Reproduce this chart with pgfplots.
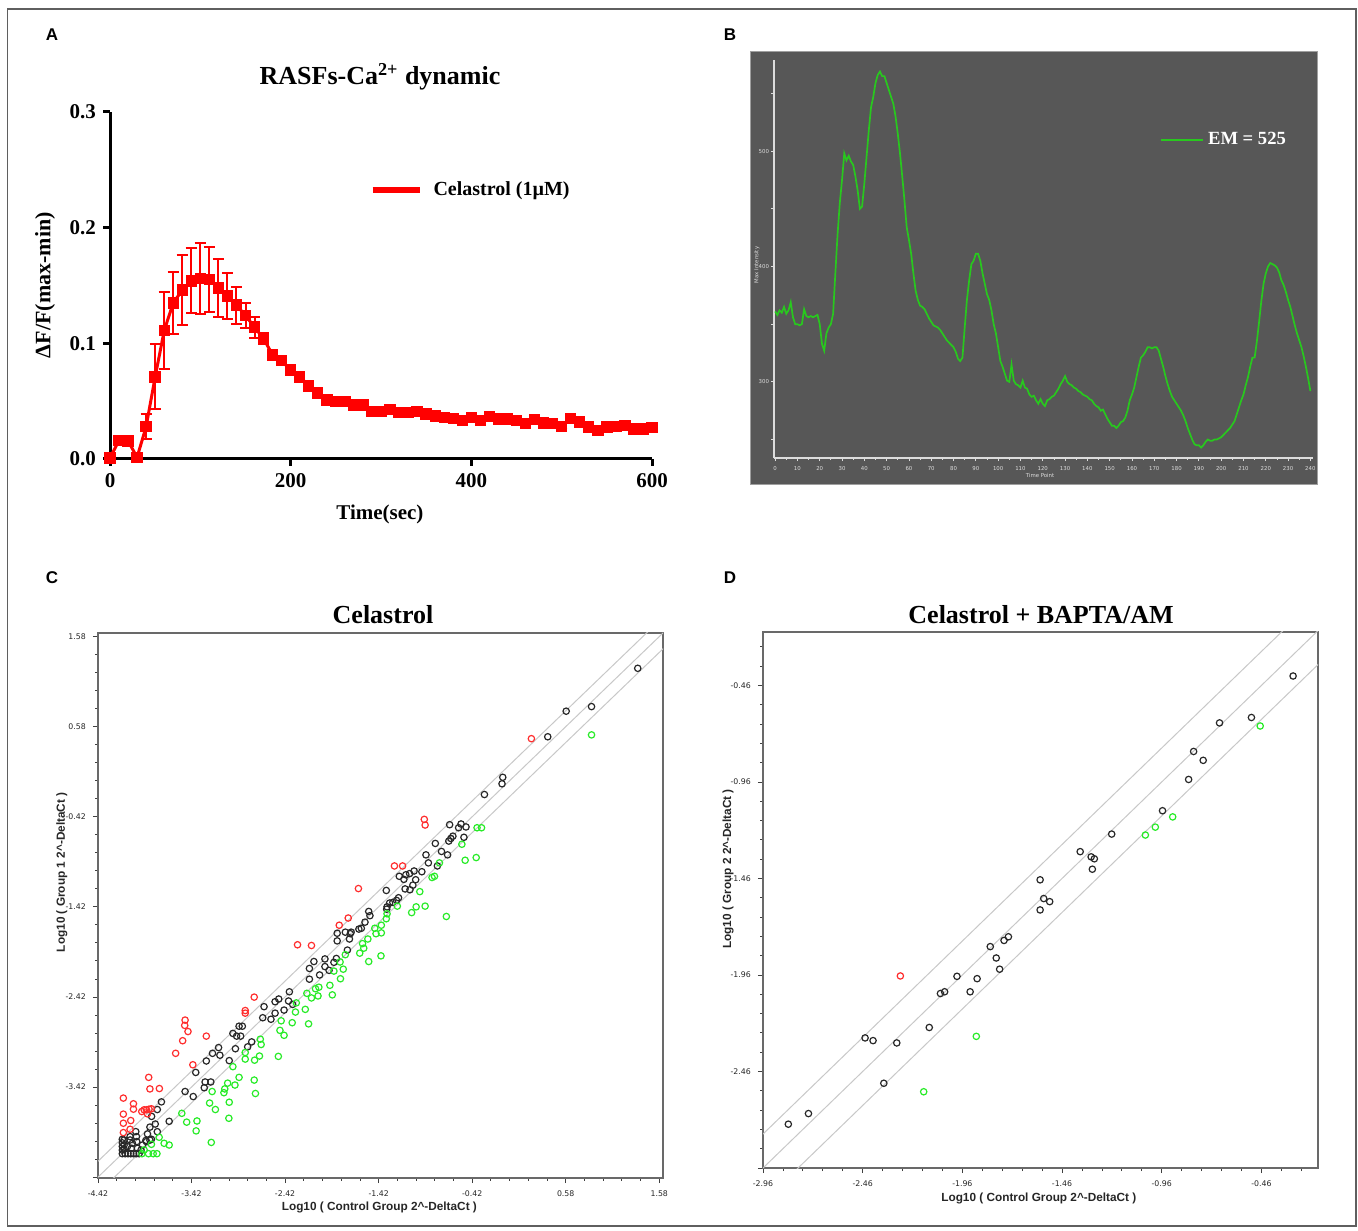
\documentclass[border=0pt]{standalone}
\usepackage{pgfplots}
\usepackage{pgfplotstable}
\pgfplotsset{compat=1.18}
\usepackage{fontspec}
\setmainfont{Liberation Serif}
\newfontfamily\lsans{Liberation Sans}
\newfontfamily\dvs{DejaVu Sans}
\definecolor{bgB}{RGB}{87,87,87}
\definecolor{curveB}{RGB}{40,200,30}
\definecolor{ptred}{RGB}{255,45,45}
\definecolor{ptgreen}{RGB}{40,235,40}
\definecolor{ptblack}{RGB}{40,40,40}
\definecolor{diag}{RGB}{200,200,200}
\definecolor{boxc}{RGB}{105,105,105}
\definecolor{lightax}{RGB}{220,220,220}

\pgfplotstableread{
t v e
0 0.001 0
10 0.016 0.001
20 0.0155 0.001
30 0.0015 0.001
40 0.028 0.011
50 0.071 0.028
60 0.111 0.033
70 0.135 0.027
80 0.146 0.030
90 0.154 0.028
100 0.156 0.031
110 0.155 0.028
120 0.148 0.025
130 0.141 0.020
140 0.133 0.016
150 0.124 0.011
160 0.114 0.009
170 0.104 0.005
180 0.090 0.003
190 0.085 0.002
200 0.077 0.002
210 0.071 0.002
220 0.063 0.002
230 0.057 0.002
240 0.051 0.002
250 0.0496 0.002
260 0.0496 0.002
270 0.0466 0.002
280 0.0466 0.002
290 0.041 0.002
300 0.041 0.002
310 0.043 0.002
320 0.040 0.002
330 0.040 0.002
340 0.041 0.004
350 0.039 0.002
360 0.037 0.002
370 0.036 0.001
380 0.035 0.001
390 0.0335 0.001
400 0.036 0.001
410 0.0335 0.001
420 0.0365 0.001
430 0.0344 0.001
440 0.0344 0.001
450 0.0335 0.001
460 0.0306 0.001
470 0.034 0.001
480 0.031 0.001
490 0.0306 0.001
500 0.028 0.001
510 0.035 0.001
520 0.032 0.001
530 0.0277 0.001
540 0.0248 0.001
550 0.0277 0.001
560 0.028 0.001
570 0.029 0.001
580 0.026 0.001
590 0.026 0.001
600 0.027 0.001
}\dataA

\pgfplotstableread{
t v
0 361
1 358
2 362
3 360
4 365
5 359
6 362
7 369
8 356
9 350
10 350
11 349
12 350
13 363
14 357
15 356
16 357
17 356
18 357
19 358
20 350
21 333
22 327
23 342
24 347
25 350
26 359
27 394
28 428
29 455
30 475
31 498
32 492
33 496
34 491
35 488
36 478
37 466
38 450
39 452
40 472
41 495
42 518
43 538
44 547
45 559
46 566
47 569
48 565
49 565
50 559
51 553
52 547
53 541
54 530
55 515
56 498
57 478
58 457
59 434
60 423
61 411
62 394
63 379
64 371
65 366
66 365
67 363
68 359
69 355
70 352
71 349
72 348
73 347
74 345
75 342
76 339
77 336
78 334
79 332
80 330
81 326
82 320
83 318
84 321
85 347
86 371
87 388
88 402
89 405
90 411
91 411
92 405
93 394
94 385
95 376
96 371
97 362
98 350
99 342
100 330
101 318
102 313
103 307
104 301
105 300
106 315
107 301
108 298
109 297
110 295
111 301
112 295
113 294
114 289
115 287
116 288
117 284
118 281
119 285
120 281
121 279
122 284
123 285
124 287
125 288
126 291
127 294
128 298
129 301
130 305
131 300
132 298
133 297
134 295
135 294
136 292
137 291
138 289
139 288
140 287
141 285
142 284
143 281
144 279
145 278
146 275
147 276
148 272
149 268
150 265
151 262
152 262
153 260
154 262
155 265
156 266
157 269
158 275
159 284
160 289
161 295
162 304
163 313
164 321
165 323
166 326
167 330
168 330
169 329
170 330
171 330
172 327
173 320
174 313
175 305
176 298
177 292
178 287
179 284
180 281
181 278
182 275
183 271
184 266
185 260
186 255
187 250
188 246
189 245
190 245
191 243
192 245
193 248
194 250
195 249
196 249
197 250
198 250
199 251
200 252
201 254
202 256
203 258
204 260
205 263
206 266
207 272
208 278
209 284
210 289
211 297
212 304
213 313
214 321
215 321
216 335
217 352
218 370
219 385
220 394
221 400
222 403
223 402
224 401
225 399
226 395
227 388
228 384
229 378
230 371
231 365
232 357
233 349
234 342
235 336
236 330
237 322
238 313
239 303
240 292
}\dataB

\pgfplotstableread{
x y
1.350 1.228
0.585 0.752
0.856 0.803
0.388 0.468
-0.093 0.018
-0.101 -0.054
-0.289 -0.173
-0.661 -0.508
-0.539 -0.500
-0.565 -0.542
-0.486 -0.533
-0.814 -0.716
-0.626 -0.635
-0.648 -0.661
-0.670 -0.690
-0.508 -0.648
-0.748 -0.805
-0.683 -0.843
-0.914 -0.843
-0.888 -0.932
-0.792 -0.966
-0.958 -1.030
-1.041 -1.022
-1.089 -1.051
-1.129 -1.064
-1.199 -1.081
-1.150 -1.115
-1.024 -1.119
-1.054 -1.179
-1.137 -1.221
-1.085 -1.230
-1.338 -1.238
-1.207 -1.319
-1.229 -1.348
-1.268 -1.370
-1.303 -1.378
-1.330 -1.420
-1.334 -1.446
-1.526 -1.471
-1.513 -1.518
-1.566 -1.590
-1.605 -1.658
-1.631 -1.667
-1.714 -1.701
-1.776 -1.701
-1.723 -1.718
-1.863 -1.713
-1.732 -1.777
-1.863 -1.798
-1.754 -1.900
-1.994 -1.998
-2.112 -2.027
-2.160 -2.104
-1.994 -2.083
-1.950 -2.125
-2.051 -2.176
-2.160 -2.223
-1.872 -1.993
-1.898 -2.036
-2.374 -2.363
-2.488 -2.443
-2.527 -2.473
-2.383 -2.465
-2.339 -2.503
-2.431 -2.566
-2.645 -2.528
-2.527 -2.600
-2.571 -2.668
-2.659 -2.651
-2.777 -2.919
-2.820 -2.974
-2.877 -2.745
-2.912 -2.745
-2.978 -2.825
-2.938 -2.855
-2.895 -2.855
-2.951 -2.995
-3.017 -3.127
-3.131 -2.982
-3.117 -3.067
-3.196 -3.046
-3.262 -3.131
-3.375 -3.258
-3.402 -3.526
-3.489 -3.470
-3.275 -3.364
-3.284 -3.428
-3.214 -3.364
-3.659 -3.801
-3.742 -3.585
-3.786 -3.670
-3.847 -3.746
-3.865 -3.865
-3.808 -3.831
-3.786 -3.916
-3.909 -4.014
-3.865 -4.009
-3.891 -3.941
-3.849 -4.000
-3.902 -4.026
-3.945 -4.064
-4.016 -3.915
-4.009 -3.971
-4.077 -3.971
-4.077 -4.008
-4.141 -4.008
-4.141 -4.064
-4.106 -4.082
-4.052 -4.045
-4.006 -4.026
-3.999 -4.101
-4.063 -4.101
-4.141 -4.112
-3.960 -4.120
-4.160 -4.160
-4.130 -4.160
-4.100 -4.160
-4.070 -4.160
-4.040 -4.160
-4.010 -4.160
-3.980 -4.160
-4.160 -4.120
-4.160 -4.080
-4.160 -4.040
-4.160 -4.000
}\dataCk

\pgfplotstableread{
x y
0.213 0.447
-0.932 -0.449
-0.923 -0.512
-1.251 -0.966
-1.164 -0.966
-1.636 -1.217
-1.745 -1.544
-1.841 -1.624
-2.287 -1.841
-2.138 -1.849
-2.750 -2.422
-2.846 -2.571
-2.846 -2.600
-3.489 -2.677
-3.493 -2.736
-3.458 -2.804
-3.515 -2.906
-3.262 -2.855
-3.590 -3.046
-3.406 -3.173
-3.878 -3.313
-3.865 -3.441
-3.764 -3.437
-4.149 -3.543
-4.149 -3.721
-4.149 -3.822
-4.149 -3.926
-4.070 -3.792
-4.041 -3.606
-4.041 -3.666
-3.952 -3.692
-3.927 -3.673
-3.902 -3.673
-3.874 -3.666
-3.849 -3.662
-3.891 -3.718
-4.077 -3.889
}\dataCr

\pgfplotstableread{
x y
0.856 0.489
-0.368 -0.542
-0.320 -0.542
-0.530 -0.725
-0.495 -0.903
-0.377 -0.873
-0.770 -0.932
-0.823 -1.081
-0.849 -1.094
-0.980 -1.251
-0.923 -1.412
-1.019 -1.420
-1.067 -1.484
-0.696 -1.527
-1.220 -1.412
-1.330 -1.497
-1.338 -1.552
-1.391 -1.624
-1.391 -1.709
-1.461 -1.658
-1.448 -1.718
-1.535 -1.777
-1.592 -1.828
-1.579 -1.879
-1.622 -1.934
-1.526 -2.027
-1.395 -1.964
-1.776 -1.951
-1.798 -2.112
-1.828 -2.218
-1.898 -2.133
-1.832 -2.032
-1.941 -2.291
-1.915 -2.397
-2.059 -2.312
-2.095 -2.329
-2.138 -2.431
-2.068 -2.409
-2.187 -2.380
-2.300 -2.486
-2.309 -2.588
-2.204 -2.558
-2.169 -2.719
-2.344 -2.706
-2.462 -2.685
-2.475 -2.791
-2.431 -2.846
-2.492 -3.080
-2.685 -2.889
-2.676 -2.948
-2.694 -3.076
-2.746 -3.122
-2.846 -3.037
-2.846 -3.110
-2.750 -3.343
-2.737 -3.492
-2.912 -3.313
-2.956 -3.398
-2.978 -3.194
-3.034 -3.377
-3.065 -3.441
-3.074 -3.483
-3.017 -3.589
-3.021 -3.767
-3.200 -3.470
-3.227 -3.598
-3.165 -3.670
-3.362 -3.797
-3.371 -3.907
-3.472 -3.810
-3.524 -3.712
-3.209 -4.035
-3.766 -3.978
-3.713 -4.045
-3.659 -4.064
-3.849 -4.056
-3.927 -4.119
-3.950 -4.160
-3.880 -4.160
-3.830 -4.160
-3.790 -4.160
}\dataCg

\pgfplotstableread{
x y
-0.301 -0.411
-0.510 -0.626
-0.670 -0.654
-0.800 -0.802
-0.752 -0.848
-0.825 -0.947
-0.956 -1.109
-1.211 -1.230
-1.369 -1.321
-1.314 -1.348
-1.298 -1.358
-1.308 -1.412
-1.570 -1.467
-1.552 -1.564
-1.522 -1.580
-1.570 -1.623
-1.729 -1.762
-1.751 -1.781
-1.820 -1.813
-1.790 -1.872
-1.773 -1.930
-1.987 -1.967
-1.886 -1.979
-1.921 -2.047
-2.049 -2.047
-2.070 -2.056
-2.126 -2.232
-2.448 -2.286
-2.408 -2.300
-2.289 -2.312
-2.354 -2.521
-2.732 -2.678
-2.833 -2.733
}\dataDk

\pgfplotstableread{
x y
-2.271 -1.965
}\dataDr

\pgfplotstableread{
x y
-0.466 -0.670
-0.905 -1.141
-0.992 -1.194
-1.042 -1.235
-1.890 -2.278
-2.154 -2.565
}\dataDg

\begin{document}
\begin{tikzpicture}
\path[use as bounding box] (0,0) rectangle (679pt,615pt);
\draw[line width=0.7pt, draw={rgb,255:red,95;green,95;blue,95}] (3.75pt,2pt) rectangle (678pt,610.5pt);

% panel letters
\node[font=\lsans\bfseries\fontsize{8.5}{10}\selectfont] at (26pt,597.5pt) {A};
\node[font=\lsans\bfseries\fontsize{8.5}{10}\selectfont] at (365pt,597.5pt) {B};
\node[font=\lsans\bfseries\fontsize{8.5}{10}\selectfont] at (26pt,326pt) {C};
\node[font=\lsans\bfseries\fontsize{8.5}{10}\selectfont] at (365pt,326pt) {D};

% titles
\node[font=\bfseries\fontsize{13}{15}\selectfont] at (190pt,576.5pt) {RASFs-Ca\textsuperscript{2+} dynamic};
\node[font=\bfseries\fontsize{13}{15}\selectfont] at (191.5pt,307.5pt) {Celastrol};
\node[font=\bfseries\fontsize{13}{15}\selectfont] at (520.5pt,307.5pt) {Celastrol + BAPTA/AM};

% ---------------- Panel A ----------------
\begin{axis}[
  at={(55pt,385.5pt)}, anchor=south west,
  scale only axis, width=271pt, height=173.5pt,
  xmin=0, xmax=600, ymin=0, ymax=0.3,
  axis x line*=bottom, axis y line*=left,
  axis line style={-, line width=1.5pt, black},
  xtick={0,200,400,600}, xticklabels={0,200,400,600},
  ytick={0,0.1,0.2,0.3}, yticklabels={0.0,0.1,0.2,0.3},
  tick align=outside, major tick length=3.5pt,
  tick style={line width=1.5pt, black},
  ticklabel style={font=\bfseries\fontsize{10.5}{12}\selectfont},
  xlabel={Time(sec)},
  xlabel style={at={(axis description cs:0.498,-0.161)}, anchor=center, font=\bfseries\fontsize{10.5}{12}\selectfont},
  ylabel={ΔF/F(max-min)},
  ylabel style={at={(axis description cs:-0.12,0.501)}, anchor=center, font=\bfseries\fontsize{11}{13}\selectfont},
  clip=false,
  legend style={at={(axis description cs:0.467,0.775)}, anchor=west, draw=none, fill=none,
    font=\bfseries\fontsize{10}{12}\selectfont,
    /tikz/every odd column/.append style={column sep=3.5pt}},
  legend cell align=left,
  legend image code/.code={\draw[red, line width=3pt] (0pt,0pt) -- (23.5pt,0pt);},
]
\addplot[color=red, line width=1.5pt, mark=square*, mark size=2.1pt, mark options={solid, fill=red},
  error bars/.cd, y dir=both, y explicit,
  error bar style={line width=1pt, red},
  error mark options={rotate=90, mark size=2.8pt, line width=1pt, red}]
  table[x=t, y=v, y error=e] {\dataA};
\addlegendentry{Celastrol (1µM)}
\end{axis}

% ---------------- Panel B ----------------
\fill[bgB] (375pt,372.5pt) rectangle (658.5pt,589pt);
\draw[line width=0.5pt, gray!75] (375pt,372.5pt) rectangle (658.5pt,589pt);
\begin{axis}[
  at={(387pt,386pt)}, anchor=south west,
  scale only axis, width=269.3pt, height=199pt,
  xmin=-0.5, xmax=241, ymin=234, ymax=579,
  axis x line*=bottom, axis y line*=left,
  axis line style={-, lightax, line width=0.6pt},
  xtick={0,10,...,240}, minor x tick num=1,
  ytick={250,300,350,400,450,500,550}, yticklabels={,300,,400,,500,},
  tick align=outside, major tick length=1.6pt, minor tick length=1pt,
  tick style={lightax, line width=0.4pt},
  /pgf/number format/assume math mode=true,
  ticklabel style={font=\dvs\fontsize{2.7}{3}\selectfont, text=lightax},
  yticklabel style={xshift=2.6pt},
  xticklabel style={yshift=0.8pt},
  xlabel={Time Point}, ylabel={Max Intensity},
  label style={font=\dvs\fontsize{2.7}{3}\selectfont, text=lightax},
  xlabel style={at={(axis description cs:0.494,-0.045)}, anchor=center},
  ylabel style={at={(axis description cs:-0.032,0.485)}, anchor=center},
  legend style={at={(axis description cs:0.705,0.799)}, anchor=west, draw=none, fill=none,
    font=\bfseries\fontsize{9.3}{11}\selectfont, text=white},
  legend image code/.code={\draw[curveB, line width=1pt] (0pt,0pt) -- (21pt,0pt);},
]
\addplot[curveB, line width=0.85pt, no marks] table[x=t, y=v] {\dataB};
\addlegendentry{EM = 525}
\end{axis}

% ---------------- Panel C ----------------
\begin{axis}[
  at={(49pt,26pt)}, anchor=south west,
  scale only axis, width=282.5pt, height=272.5pt,
  xmin=-4.42, xmax=1.62, ymin=-4.43, ymax=1.62,
  axis line style={boxc, line width=0.6pt},
  tick pos=left, tick align=outside,
  xtick={-4.42,-3.42,-2.42,-1.42,-0.42,0.58,1.58},
  xticklabels={-4.42,-3.42,-2.42,-1.42,-0.42,0.58,1.58},
  ytick={-4.42,-3.42,-2.42,-1.42,-0.42,0.58,1.58},
  yticklabels={,-3.42,-2.42,-1.42,-0.42,0.58,1.58},
  minor x tick num=4, minor y tick num=4,
  major tick length=2.6pt, minor tick length=1.5pt,
  tick style={black!75, line width=0.4pt},
  ticklabel style={font=\dvs\fontsize{3.9}{5}\selectfont, text=black!85},
  xlabel={Log10 ( Control Group 2\textasciicircum-DeltaCt )},
  ylabel={Log10 ( Group 1 2\textasciicircum-DeltaCt )},
  label style={font=\lsans\bfseries\fontsize{5.9}{7}\selectfont, text=black!85},
  xlabel style={at={(axis description cs:0.498,-0.055)}, anchor=center},
  ylabel style={at={(axis description cs:-0.064,0.561)}, anchor=center},
]
\addplot[diag, line width=0.5pt] coordinates {(-4.6,-4.6) (1.8,1.8)};
\addplot[diag, line width=0.5pt] coordinates {(-4.6,-4.424) (1.6,1.776)};
\addplot[diag, line width=0.5pt] coordinates {(-4.4,-4.576) (1.8,1.624)};
\addplot[only marks, mark=o, mark size=1.6pt, mark options={ptblack, line width=0.6pt}] table {\dataCk};
\addplot[only marks, mark=o, mark size=1.6pt, mark options={ptgreen, line width=0.6pt}] table {\dataCg};
\addplot[only marks, mark=o, mark size=1.6pt, mark options={ptred, line width=0.6pt}] table {\dataCr};
\end{axis}

% ---------------- Panel D ----------------
\begin{axis}[
  at={(381.5pt,31pt)}, anchor=south west,
  scale only axis, width=277.5pt, height=268pt,
  xmin=-2.96, xmax=-0.176, ymin=-2.96, ymax=-0.183,
  axis line style={boxc, line width=0.6pt},
  tick pos=left, tick align=outside,
  xtick={-2.96,-2.46,-1.96,-1.46,-0.96,-0.46,0.04},
  xticklabels={-2.96,-2.46,-1.96,-1.46,-0.96,-0.46,},
  ytick={-2.96,-2.46,-1.96,-1.46,-0.96,-0.46,0.04},
  yticklabels={,-2.46,-1.96,-1.46,-0.96,-0.46,},
  minor x tick num=4, minor y tick num=4,
  major tick length=2.6pt, minor tick length=1.5pt,
  tick style={black!75, line width=0.4pt},
  ticklabel style={font=\dvs\fontsize{3.9}{5}\selectfont, text=black!85},
  xlabel={Log10 ( Control Group 2\textasciicircum-DeltaCt )},
  ylabel={Log10 ( Group 2 2\textasciicircum-DeltaCt )},
  label style={font=\lsans\bfseries\fontsize{5.9}{7}\selectfont, text=black!85},
  xlabel style={at={(axis description cs:0.497,-0.056)}, anchor=center},
  ylabel style={at={(axis description cs:-0.063,0.558)}, anchor=center},
]
\addplot[diag, line width=0.5pt] coordinates {(-3.1,-3.1) (0,0)};
\addplot[diag, line width=0.5pt] coordinates {(-3.2,-3.024) (0,0.176)};
\addplot[diag, line width=0.5pt] coordinates {(-3.0,-3.176) (0,-0.176)};
\addplot[only marks, mark=o, mark size=1.6pt, mark options={ptblack, line width=0.6pt}] table {\dataDk};
\addplot[only marks, mark=o, mark size=1.6pt, mark options={ptgreen, line width=0.6pt}] table {\dataDg};
\addplot[only marks, mark=o, mark size=1.6pt, mark options={ptred, line width=0.6pt}] table {\dataDr};
\end{axis}
\end{tikzpicture}
\end{document}
